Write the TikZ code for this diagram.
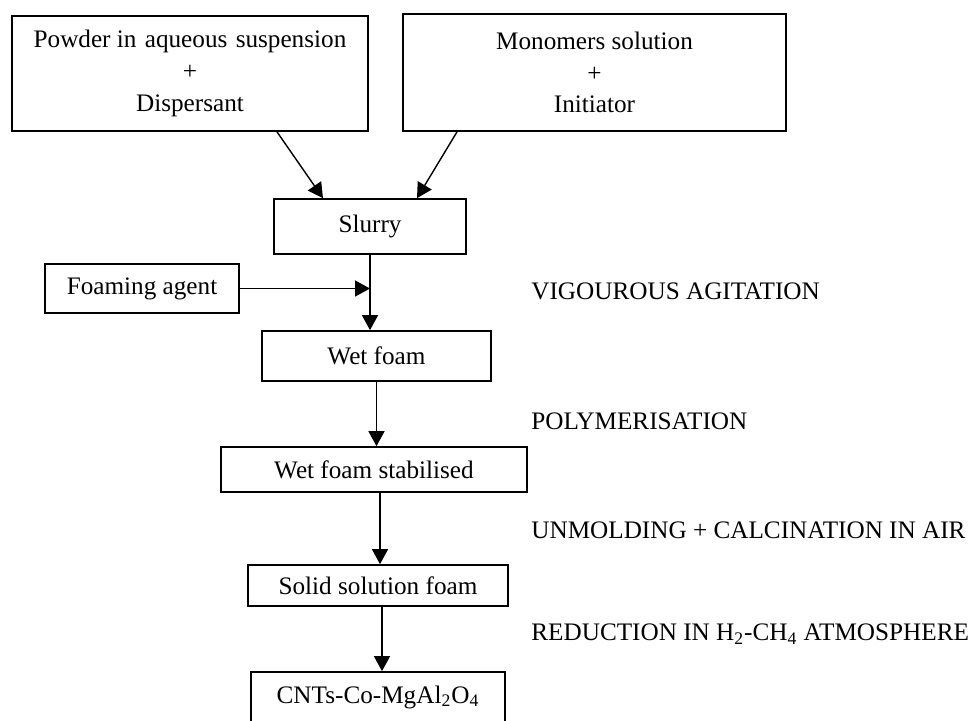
\documentclass[tikz,border=0pt]{standalone}
\usepackage{fontspec}
\setmainfont{Liberation Serif}
\usepackage{tikz}
\usetikzlibrary{arrows.meta}
\usetikzlibrary{positioning}
\tikzset{proc node/.style={rectangle,draw,line width=0.85pt,inner sep=0pt,align=center,font=\fontsize{12.6}{15.8}\selectfont}}
\tikzset{flow/.style={-{Triangle[length=7.5pt,width=8pt]},line width=0.7pt}}
\tikzset{step label/.style={anchor=west,inner sep=0pt,font=\fontsize{12.6}{15.8}\selectfont}}

\begin{document}
\begin{tikzpicture}[x=0.5pt,y=-0.5pt]
    	\useasboundingbox (0,0) rectangle (968,720);
    	% boxes
    	\node[proc node,minimum width=178pt,minimum height=57.5pt] (powder) at (190,73.5) {Powder in\hspace{0.08em} aqueous\hspace{0.08em} suspension\\+\\Dispersant};
    	\node[proc node,minimum width=191.5pt,minimum height=58.5pt] (monomer) at (594.5,72.5) {Monomers solution\\+\\Initiator};
    	\node[proc node,minimum width=96pt,minimum height=27.5pt] (slurry) at (370,226.5) {Slurry};
    	\node[proc node,minimum width=97pt,minimum height=24.5pt] (foaming) at (142,288.5) {Foaming agent};
    	\node[proc node,minimum width=114.5pt,minimum height=25pt] (wetfoam) at (376.5,356) {Wet foam};
    	\node[proc node,minimum width=153pt,minimum height=22.5pt] (stab) at (374,469.5) {Wet foam stabilised};
    	\node[proc node,minimum width=130pt,minimum height=20.5pt] (solid) at (378,585.5) {Solid solution foam};
    	\node[proc node,minimum width=127pt,minimum height=25pt] (cnt) at (378,697) {CNTs-Co-MgAl\textsubscript{2}O\textsubscript{4}};
    
    	% step labels
    	\node[step label] (agitation) at (531,291) {VIGOUROUS AGITATION};
    	\node[step label] (polym) at (531,421) {POLYMERISATION};
    	\node[step label] (calcin) at (531,530) {UNMOLDING + CALCINATION IN AIR};
    	\node[step label] (reduct) at (531,634) {REDUCTION IN H\textsubscript{2}-CH\textsubscript{4} ATMOSPHERE};
    
    	% connectors
    	\coordinate (join) at (slurry.south |- foaming.east);
    	\draw[flow] ([xshift=43.5pt]powder.south) -- ([xshift=-23.5pt]slurry.north);
    	\draw[flow] ([xshift=-68.75pt]monomer.south) -- ([xshift=23.5pt]slurry.north);
    	\draw[flow] (slurry.south) -- (slurry.south |- wetfoam.north);
    	\draw[flow] (foaming.east) -- (join);
    	\draw[flow] (wetfoam.south) -- (wetfoam.south |- stab.north);
    	\draw[flow] ([xshift=3pt]stab.south) -- ([xshift=3pt]stab.south |- solid.north);
    	\draw[flow] ([xshift=2pt]solid.south) -- ([xshift=2pt]solid.south |- cnt.north);
\end{tikzpicture}
\end{document}
